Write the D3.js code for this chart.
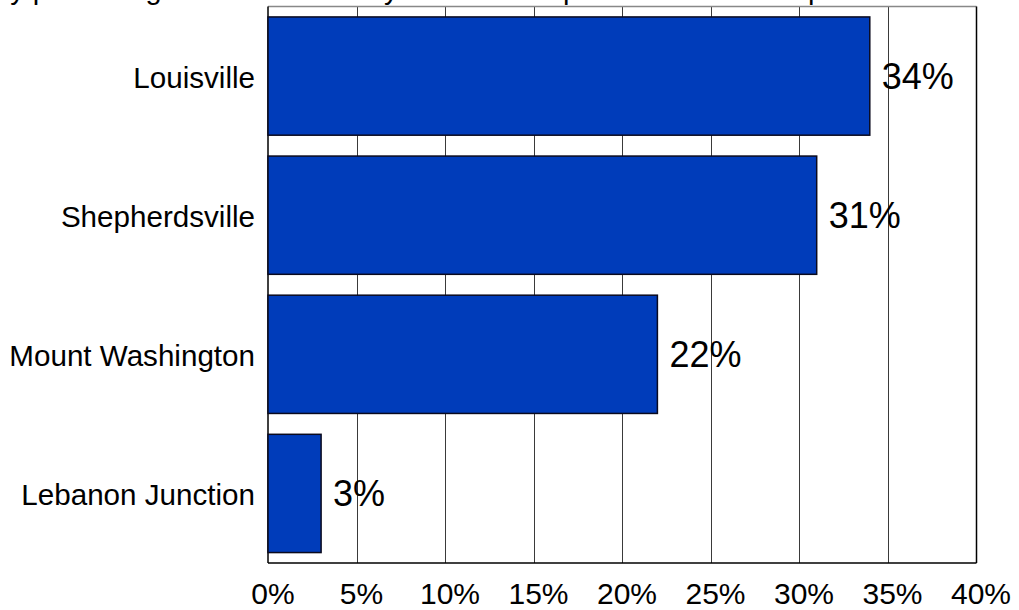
<!DOCTYPE html>
<html>
<head>
<meta charset="utf-8">
<script src="https://cdn.jsdelivr.net/npm/d3@7"></script>
<style>
  html, body { margin: 0; padding: 0; background: #fff; }
  svg { display: block; font-family: "Liberation Sans", Arial, sans-serif; }
</style>
</head>
<body>
<svg id="chart" width="1019" height="610"></svg>
<script>
const categories = ["Louisville", "Shepherdsville", "Mount Washington", "Lebanon Junction"];
const values = [34, 31, 22, 3];
const xTicks = [0, 5, 10, 15, 20, 25, 30, 35, 40];
const tickLabels = ["0%", "5%", "10%", "15%", "20%", "25%", "30%", "35%", "40%"];
const valueLabels = ["34%", "31%", "22%", "3%"];
const titleText = "by percentage for Bullitt County residents in purchases at a shop";

const svg = d3.select("#chart");
const plot = { left: 268, right: 976, top: 6.5, bottom: 563 };

const x = d3.scaleLinear().domain([0, 40]).range([plot.left, plot.right]);
const y = d3.scaleBand().domain(categories).range([plot.top, plot.bottom])
  .paddingInner(0.15).paddingOuter(0.075);

// title, cut off by the top edge as in the reference (only descenders visible)
svg.append("text")
  .attr("x", -6).attr("y", -1)
  .attr("font-size", 29).attr("fill", "#000")
  .text(titleText);

// gridlines
svg.append("g").selectAll("line").data(xTicks.slice(1, -1)).join("line")
  .attr("x1", d => Math.round(x(d)) + 0.5).attr("x2", d => Math.round(x(d)) + 0.5)
  .attr("y1", plot.top).attr("y2", plot.bottom)
  .attr("stroke", "#3a3a3a").attr("stroke-width", 1);

// plot border
svg.append("line").attr("x1", plot.left).attr("x2", plot.right + 0.5)
  .attr("y1", plot.top).attr("y2", plot.top).attr("stroke", "#888").attr("stroke-width", 1.5);
svg.append("line").attr("x1", plot.right + 0.5).attr("x2", plot.right + 0.5)
  .attr("y1", plot.top).attr("y2", plot.bottom).attr("stroke", "#000").attr("stroke-width", 1.5);
svg.append("line").attr("x1", plot.left).attr("x2", plot.right + 0.5)
  .attr("y1", plot.bottom).attr("y2", plot.bottom).attr("stroke", "#000").attr("stroke-width", 1.5);
svg.append("line").attr("x1", plot.left).attr("x2", plot.left)
  .attr("y1", plot.top).attr("y2", plot.bottom).attr("stroke", "#000").attr("stroke-width", 1.5);

// bars
svg.append("g").selectAll("rect").data(categories).join("rect")
  .attr("x", x(0))
  .attr("y", d => y(d))
  .attr("width", (d, i) => x(values[i]) - x(0))
  .attr("height", y.bandwidth())
  .attr("fill", "#003cba")
  .attr("stroke", "#0a0a1e")
  .attr("stroke-width", 1.5);

// value labels
svg.append("g").selectAll("text").data(categories).join("text")
  .attr("x", (d, i) => x(values[i]) + 12)
  .attr("y", d => y(d) + y.bandwidth() / 2 + 13)
  .attr("font-size", 36)
  .attr("fill", "#000")
  .text((d, i) => valueLabels[i]);

// x axis
const xAxis = svg.append("g").attr("transform", `translate(0,${plot.bottom})`)
  .call(d3.axisBottom(x).tickValues(xTicks).tickFormat((d, i) => tickLabels[i]).tickSize(0));
xAxis.select(".domain").remove();
xAxis.selectAll("text")
  .attr("y", 41).attr("dy", null).attr("x", 4.5)
  .attr("font-size", 30).attr("font-family", "Liberation Sans, Arial, sans-serif")
  .attr("fill", "#000");

// y axis
const yAxis = svg.append("g").attr("transform", `translate(${plot.left},0)`)
  .call(d3.axisLeft(y).tickSize(0));
yAxis.select(".domain").remove();
yAxis.selectAll("text")
  .attr("x", -13).attr("dy", null).attr("y", 11.5)
  .attr("font-size", 29.6).attr("font-family", "Liberation Sans, Arial, sans-serif")
  .attr("fill", "#000");
</script>
</body>
</html>
